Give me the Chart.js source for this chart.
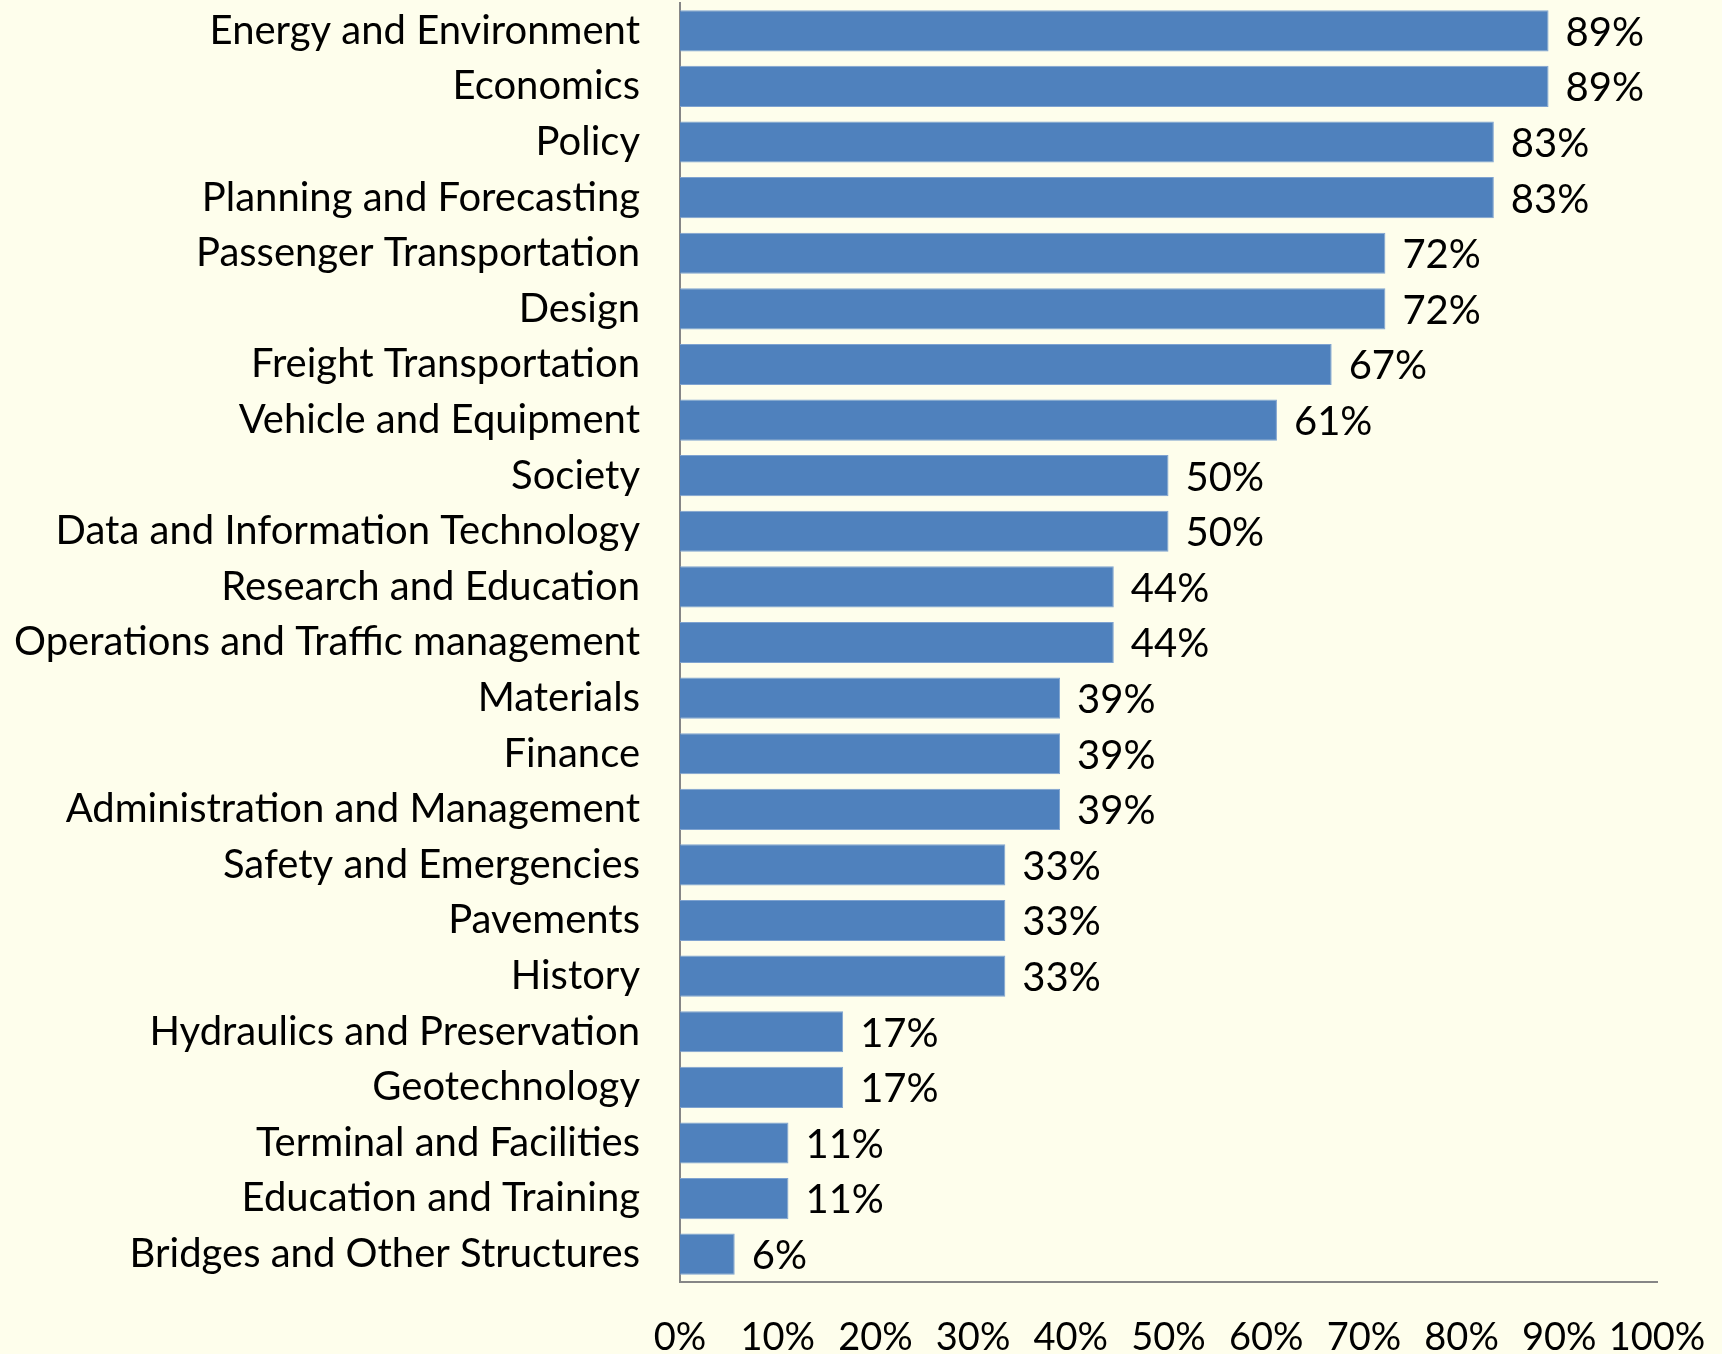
<!DOCTYPE html>
<html>
<head>
<meta charset="utf-8">
<script src="https://cdn.jsdelivr.net/npm/chart.js@4.4.1/dist/chart.umd.min.js"></script>
<style>
  html, body { margin: 0; padding: 0; background: #fefeec; }
  #wrap { width: 1722px; height: 1354px; }
</style>
</head>
<body>
<div id="wrap"><canvas id="chart" width="1722" height="1354"></canvas></div>
<script>
const categories = [
  'Energy and Environment', 'Economics', 'Policy', 'Planning and Forecasting',
  'Passenger Transportation', 'Design', 'Freight Transportation', 'Vehicle and Equipment',
  'Society', 'Data and Information Technology', 'Research and Education',
  'Operations and Traffic management', 'Materials', 'Finance',
  'Administration and Management', 'Safety and Emergencies', 'Pavements', 'History',
  'Hydraulics and Preservation', 'Geotechnology', 'Terminal and Facilities',
  'Education and Training', 'Bridges and Other Structures'
]
const shares = [88.9, 88.9, 83.3, 83.3, 72.2, 72.2, 66.7, 61.1, 50, 50, 44.4, 44.4,
  38.9, 38.9, 38.9, 33.3, 33.3, 33.3, 16.7, 16.7, 11.1, 11.1, 5.6]
const xTicks = [0, 10, 20, 30, 40, 50, 60, 70, 80, 90, 100]

const fontFamily = 'Lato, "Open Sans", sans-serif'
const fontSize = 40

// value labels at the end of each bar
const barLabels = {
  id: 'barLabels',
  afterDatasetsDraw(chart) {
    const ctx = chart.ctx
    const meta = chart.getDatasetMeta(0)
    ctx.save()
    ctx.font = fontSize + 'px ' + fontFamily
    ctx.fillStyle = '#000'
    ctx.textAlign = 'left'
    ctx.textBaseline = 'middle'
    meta.data.forEach((bar, i) => {
      ctx.fillText(Math.round(shares[i]) + '%', bar.x + 17, bar.y + 2)
    })
    ctx.restore()
  }
}

const ctx = document.getElementById('chart').getContext('2d')
const chart = new Chart(ctx, {
  type: 'bar',
  data: {
    labels: categories,
    datasets: [{
      data: shares,
      backgroundColor: '#4f81bd',
      borderColor: '#7fa3d0',
      borderWidth: 1,
      categoryPercentage: 1,
      barPercentage: 0.74
    }]
  },
  options: {
    indexAxis: 'y',
    responsive: false,
    animation: false,
    layout: { padding: { top: 3, right: 65, left: 0, bottom: 0 } },
    plugins: { legend: { display: false }, tooltip: { enabled: false } },
    scales: {
      x: {
        min: 0,
        max: 100,
        afterBuildTicks(scale) { scale.ticks = xTicks.map(v => ({ value: v })) },
        afterFit(scale) {
          scale.height = 72
          scale.paddingLeft = 0
          scale.paddingRight = 0
        },
        grid: { display: false, drawTicks: false },
        border: { display: true, color: '#868686', width: 2 },
        ticks: {
          padding: 33,
          color: '#000',
          font: { family: fontFamily, size: 38 },
          maxRotation: 0,
          autoSkip: false,
          callback: v => v + '%'
        }
      },
      y: {
        afterFit(scale) {
          scale.width = 680
          scale.paddingTop = 0
          scale.paddingBottom = 0
        },
        grid: { display: false, drawTicks: false },
        border: { display: true, color: '#868686', width: 2 },
        ticks: {
          padding: 40,
          color: '#000',
          font: { family: fontFamily, size: fontSize },
          autoSkip: false
        }
      }
    }
  },
  plugins: [barLabels]
})
</script>
</body>
</html>
